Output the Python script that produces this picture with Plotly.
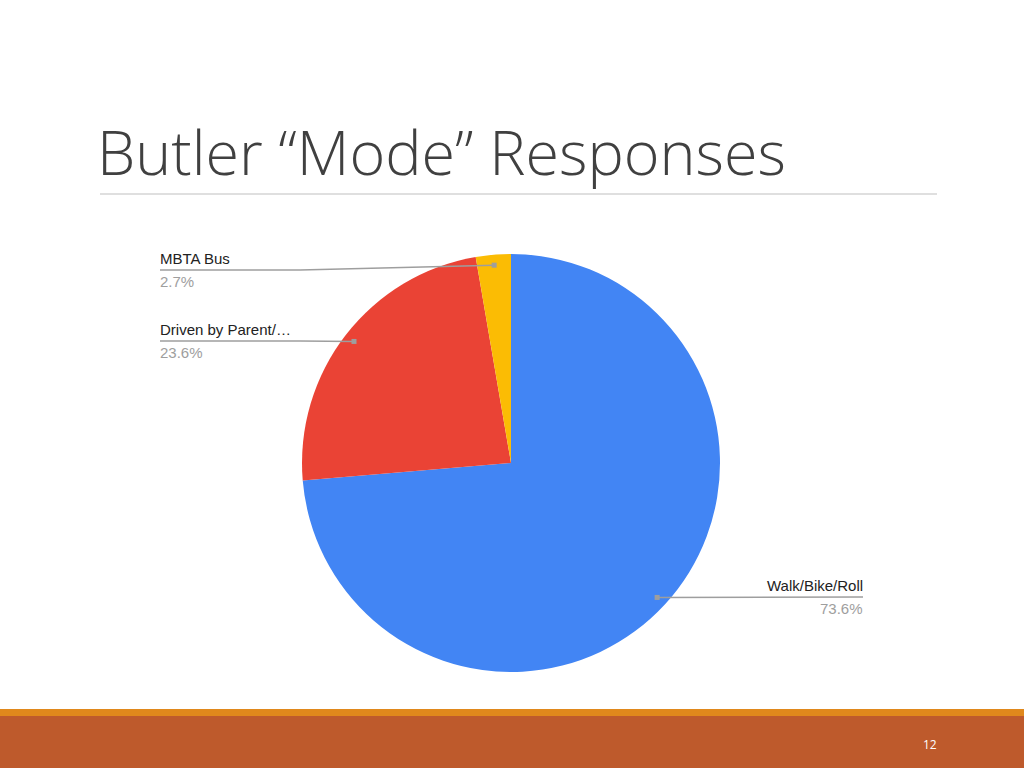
import math
import plotly.graph_objects as go

# chart data
labels = ["Walk/Bike/Roll", "Driven by Parent/…", "MBTA Bus"]
values = [73.6, 23.6, 2.7]
colors = ["#4285F4", "#EA4335", "#FBBC04"]

W, H = 1024, 768
# pie placement in pixels (centre and radius)
cx, cy, R = 511, 463, 209


def px(x):
    return x / W


def py(y):
    return 1 - y / H


fig = go.Figure()
fig.add_trace(go.Pie(
    labels=labels,
    values=values,
    marker=dict(colors=colors, line=dict(width=0)),
    sort=False,
    direction="clockwise",
    rotation=0,
    textinfo="none",
    hoverinfo="label+percent",
    showlegend=False,
    domain=dict(x=[px(cx - R), px(cx + R)], y=[py(cy + R), py(cy - R)]),
))

# anchor points of the leader lines, at the middle angle of each slice
total = sum(values)
anchors = []
acc = 0
for v in values:
    mid = (acc + v / 2) / total * 2 * math.pi
    acc += v
    anchors.append((cx + 0.95 * R * math.sin(mid), cy - 0.95 * R * math.cos(mid)))

shapes = []
annotations = []
line_col = "#9E9E9E"

# label positions: (text x, line y, side)
label_pos = [(863, 597, "right"), (160, 341, "left"), (160, 270, "left")]

for (lx, ly, side), (ax, ay), lab, val in zip(label_pos, anchors, labels, values):
    if side == "left":
        elbow = min(ax, 300)
        shapes.append(dict(type="line", xref="paper", yref="paper",
                           x0=px(lx), y0=py(ly), x1=px(elbow), y1=py(ly),
                           line=dict(color=line_col, width=1.5)))
        shapes.append(dict(type="line", xref="paper", yref="paper",
                           x0=px(elbow), y0=py(ly), x1=px(ax), y1=py(ay),
                           line=dict(color=line_col, width=1.5)))
        anchor = "left"
    else:
        shapes.append(dict(type="line", xref="paper", yref="paper",
                           x0=px(ax), y0=py(ay), x1=px(lx), y1=py(ly),
                           line=dict(color=line_col, width=1.5)))
        anchor = "right"
    shapes.append(dict(type="rect", xref="paper", yref="paper",
                       x0=px(ax - 2.5), y0=py(ay - 2.5), x1=px(ax + 2.5), y1=py(ay + 2.5),
                       fillcolor=line_col, line=dict(width=0)))
    annotations.append(dict(text=lab, xref="paper", yref="paper",
                            x=px(lx), y=py(ly - 1), xanchor=anchor, yanchor="bottom",
                            showarrow=False, xshift=-2 if anchor == "left" else 2,
                            font=dict(family="Liberation Sans, Arial", size=15, color="#222222")))
    annotations.append(dict(text=f"{val}%", xref="paper", yref="paper",
                            x=px(lx), y=py(ly + 1), xanchor=anchor, yanchor="top",
                            showarrow=False, xshift=-2 if anchor == "left" else 2,
                            font=dict(family="Liberation Sans, Arial", size=15, color="#9E9E9E")))

# slide title and rule
annotations.append(dict(text="Butler “Mode” Responses", xref="paper", yref="paper",
                        x=px(95), y=py(152), xanchor="left", yanchor="middle",
                        showarrow=False,
                        font=dict(family="Open Sans", size=61, color="#404040", weight=300)))
shapes.append(dict(type="line", xref="paper", yref="paper",
                   x0=px(100), y0=py(194), x1=px(937), y1=py(194),
                   line=dict(color="#BFBFBF", width=1)))

# footer bands
shapes.append(dict(type="rect", xref="paper", yref="paper",
                   x0=0, y0=py(716), x1=1, y1=py(709),
                   fillcolor="#E0881C", line=dict(width=0), layer="below"))
shapes.append(dict(type="rect", xref="paper", yref="paper",
                   x0=0, y0=0, x1=1, y1=py(716),
                   fillcolor="#BE5A2C", line=dict(width=0), layer="below"))
annotations.append(dict(text="12", xref="paper", yref="paper",
                        x=px(930), y=py(744), xanchor="center", yanchor="middle",
                        showarrow=False,
                        font=dict(family="Open Sans", size=12, color="#FFFFFF")))

fig.update_layout(
    width=W, height=H,
    margin=dict(l=0, r=0, t=0, b=0),
    paper_bgcolor="#FFFFFF",
    plot_bgcolor="#FFFFFF",
    shapes=shapes,
    annotations=annotations,
)

# drop the page's default body margin so the slide fills the window
fig.write_html("out.html", config={"displayModeBar": False},
               post_script="document.body.style.margin='0';")
